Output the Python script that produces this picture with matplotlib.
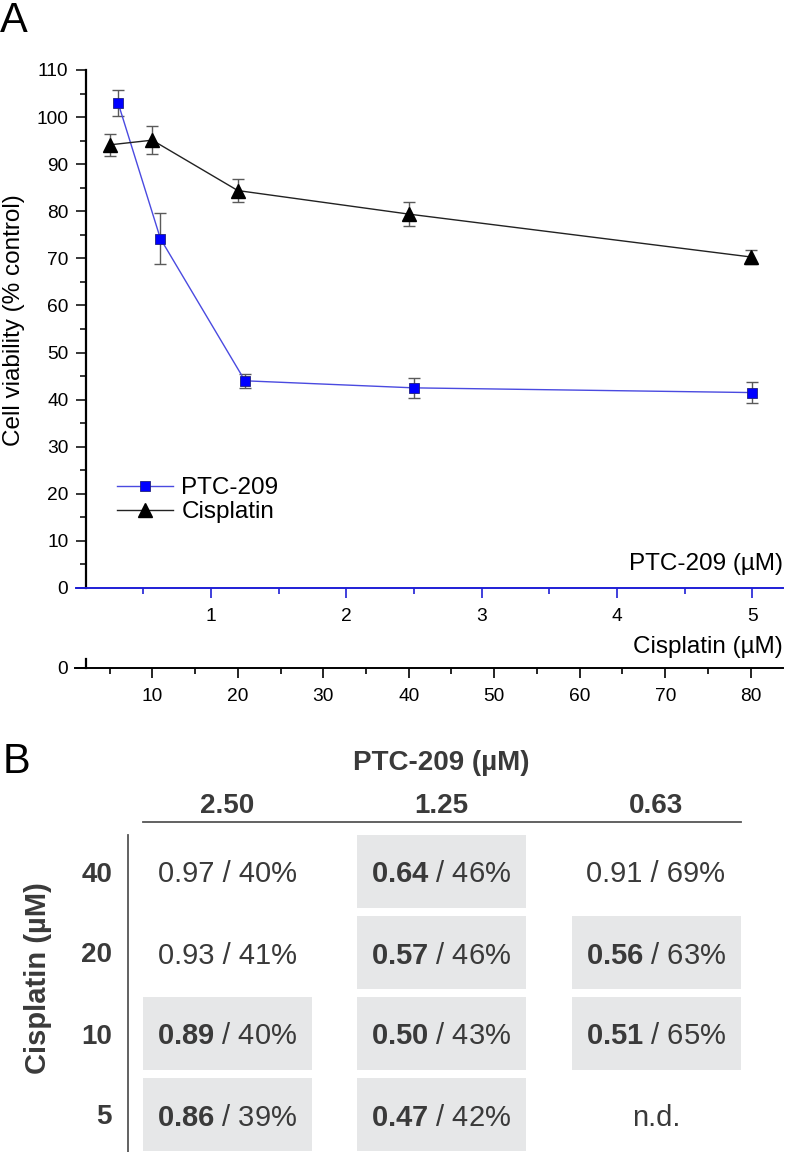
import numpy as np
import matplotlib
matplotlib.use("Agg")
import matplotlib.pyplot as plt
from matplotlib.patches import Rectangle

plt.rcParams['font.family'] = ['Liberation Sans', 'DejaVu Sans']
plt.rcParams['mathtext.fontset'] = 'custom'
plt.rcParams['mathtext.rm'] = 'Liberation Sans'
plt.rcParams['mathtext.bf'] = 'Liberation Sans:bold'
plt.rcParams['mathtext.default'] = 'regular'

# panel A data
ptc_conc = [0.3125, 0.625, 1.25, 2.5, 5.0]
ptc_viab = [103.0, 74.2, 44.0, 42.5, 41.5]
ptc_err = [2.8, 5.4, 1.5, 2.1, 2.2]

cis_conc = [5, 10, 20, 40, 80]
cis_viab = [94.1, 95.1, 84.4, 79.4, 70.3]
cis_err = [2.3, 3.0, 2.5, 2.6, 1.5]

# panel B data
col_labels = ['2.50', '1.25', '0.63']
row_labels = ['40', '20', '10', '5']
ci_values = [['0.97', '0.64', '0.91'],
             ['0.93', '0.57', '0.56'],
             ['0.89', '0.50', '0.51'],
             ['0.86', '0.47', None]]
viab_values = [[40, 46, 69],
               [41, 46, 63],
               [40, 43, 65],
               [39, 42, None]]

W, H = 787, 1152
def fx(px):
    return px / W
def fy(py):
    return 1 - py / H

fig = plt.figure(figsize=(W / 100, H / 100), dpi=100)

blue = '#1f1fd6'
tick_fs = 13.8
lab_fs = 17.5

#%% table axes in pixel space
axt = fig.add_axes([0, 0, 1, 1], zorder=0)
axt.set_xlim(0, W)
axt.set_ylim(H, 0)
axt.axis('off')

# panel A main axes
ax = fig.add_axes([fx(86), fy(588), fx(783) - fx(86), (588 - 70) / H], zorder=2)
ax.set_xlim(0.0752, 5.2264)
ax.set_ylim(0, 110)
ax.patch.set_alpha(0)

ax2 = ax.twiny()
ax2.set_xlim(2.246, 83.78)
for s in ax2.spines.values():
    s.set_visible(False)
ax2.set_xticks([])
ax2.patch.set_alpha(0)

ax.errorbar(ptc_conc, ptc_viab, yerr=ptc_err, fmt='none', ecolor='#5a5a5a',
            elinewidth=1, capsize=4.3, capthick=1, zorder=2)
l1, = ax.plot(ptc_conc, ptc_viab, color='#4a4ae0', lw=1, marker='s', markersize=7.7,
              markerfacecolor='#0000ff', markeredgecolor='#202080', markeredgewidth=0.6,
              zorder=3)
ax2.errorbar(cis_conc, cis_viab, yerr=cis_err, fmt='none', ecolor='#5a5a5a',
             elinewidth=1, capsize=4.3, capthick=1, zorder=2)
l2, = ax2.plot(cis_conc, cis_viab, color='#222222', lw=1, marker='^', markersize=10,
               markerfacecolor='black', markeredgecolor='black', zorder=3)

ax.spines['top'].set_visible(False)
ax.spines['right'].set_visible(False)
ax.spines['left'].set_linewidth(1.6)
ax.spines['bottom'].set_color(blue)
ax.spines['bottom'].set_linewidth(1.4)
ax.spines['bottom'].set_bounds(0, 5.2264)

ax.set_yticks(np.arange(0, 111, 10))
ax.set_yticks(np.arange(5, 110, 10), minor=True)
ax.set_xticks([1, 2, 3, 4, 5])
ax.set_xticks(np.arange(0.5, 5.0, 1.0), minor=True)
ax.tick_params(axis='y', which='major', direction='out', length=7.2, width=1.1,
               labelsize=tick_fs, pad=5.5)
ax.tick_params(axis='y', which='minor', direction='out', length=4.3, width=1.1)
ax.tick_params(axis='x', which='major', direction='out', length=7.2, width=1.2,
               color=blue, labelsize=tick_fs, pad=7)
ax.tick_params(axis='x', which='minor', direction='out', length=4.3, width=1.2,
               color=blue)

ax.legend([l1, l2], ['PTC-209', 'Cisplatin'], loc='upper left',
          bbox_to_anchor=(fx(117), fy(477)), bbox_transform=fig.transFigure,
          frameon=False, borderpad=0, borderaxespad=0, handlelength=2.3,
          handletextpad=0.35, labelspacing=0.1, fontsize=lab_fs, numpoints=1)

fig.text(fx(14), fy(320), 'Cell viability (% control)', rotation=90,
         ha='center', va='center', fontsize=lab_fs)
fig.text(fx(783), fy(564), 'PTC-209 (µM)', ha='right', va='center', fontsize=lab_fs)
fig.text(fx(783), fy(647), 'Cisplatin (µM)', ha='right', va='center', fontsize=lab_fs)

# cisplatin axis
axc = fig.add_axes([fx(86), fy(668), fx(783) - fx(86), 9 / H], zorder=2)
axc.patch.set_alpha(0)
axc.set_xlim(2.246, 83.78)
axc.set_ylim(0, 1)
axc.spines['top'].set_visible(False)
axc.spines['right'].set_visible(False)
axc.spines['left'].set_linewidth(1.6)
axc.spines['bottom'].set_linewidth(1.4)
axc.spines['bottom'].set_bounds(0.96, 83.78)
axc.set_yticks([0])
axc.set_xticks(np.arange(10, 81, 10))
axc.set_xticks(np.arange(5, 80, 10), minor=True)
axc.tick_params(axis='y', direction='out', length=7.2, width=1.1, labelsize=tick_fs, pad=5.5)
axc.tick_params(axis='x', which='major', direction='out', length=7.2, width=1.2,
                labelsize=tick_fs, pad=7)
axc.tick_params(axis='x', which='minor', direction='out', length=4.3, width=1.2)

fig.text(0, 1 - 1 / H, 'A', ha='left', va='top', fontsize=30)

#%% panel B table
txt = '#3a3a3a'
fig.text(fx(3), fy(742), 'B', ha='left', va='top', fontsize=30)

col_w, col_step, col0 = 169, 214.5, 142.5
row_h, row_step, row0 = 73, 81, 835

axt.text(col0 + col_step + col_w / 2, 763, 'PTC-209 (µM)', ha='center', va='center',
         fontsize=20, fontweight='bold', color=txt)
for i, c in enumerate(col_labels):
    axt.text(col0 + i * col_step + col_w / 2, 806, c, ha='center', va='center',
             fontsize=20, fontweight='bold', color=txt)
axt.plot([col0, col0 + 2 * col_step + col_w], [822, 822], color='#555555', lw=1.3)
axt.plot([127.5, 127.5], [row0, H], color='#555555', lw=1.3)

for j, r in enumerate(row_labels):
    top = row0 + j * row_step
    axt.text(112, top + row_h / 2 + 3, r, ha='right', va='center', fontsize=20,
             fontweight='bold', color=txt)
    for i in range(len(col_labels)):
        left = col0 + i * col_step
        ci = ci_values[j][i]
        if ci is None:
            s = 'n.d.'
        else:
            if float(ci) < 0.9:
                axt.add_patch(Rectangle((left, top), col_w, row_h, facecolor='#e6e7e8',
                                        edgecolor='none'))
                s = r'$\mathbf{%s}$ / %d%%' % (ci, viab_values[j][i])
            else:
                s = '%s / %d%%' % (ci, viab_values[j][i])
        axt.text(left + col_w / 2, top + row_h / 2 + 3, s, ha='center', va='center',
                 fontsize=21, color=txt)

fig.text(fx(38), fy(978), 'Cisplatin (µM)', rotation=90, ha='center', va='center',
         fontsize=21, fontweight='bold', color=txt)

fig.savefig('out.png', dpi=100)
